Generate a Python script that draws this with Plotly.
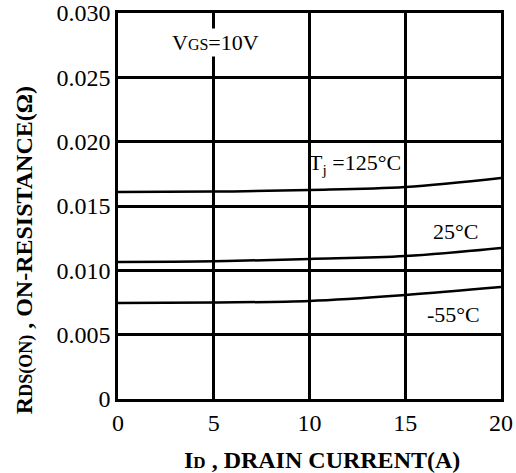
import plotly.graph_objects as go

current = [0, 5, 10, 15, 20]
r_125 = [0.01609, 0.01612, 0.01624, 0.01648, 0.01718]
r_25 = [0.01065, 0.01070, 0.01088, 0.01111, 0.01174]
r_m55 = [0.00746, 0.00750, 0.00762, 0.00808, 0.00870]

x_ticks = [0, 5, 10, 15, 20]
y_ticks = [0, 0.005, 0.010, 0.015, 0.020, 0.025, 0.030]
y_tick_text = ["0", "0.005", "0.010", "0.015", "0.020", "0.025", "0.030"]

FONT = "Liberation Serif, Times New Roman, serif"
SMALL = "<span style='font-size:%dpx'>%s</span>"
SMALLB = "<span style='font-size:%dpx;font-weight:bold'>%s</span>"

fig = go.Figure()
for ys in (r_125, r_25, r_m55):
    fig.add_trace(go.Scatter(x=current, y=ys, mode="lines",
                             line=dict(color="black", width=2.5, shape="spline"),
                             showlegend=False, hoverinfo="skip"))

ann_font = dict(family=FONT, size=22, color="black")
fig.add_annotation(x=5.1, y=0.0277, text="V" + SMALL % (16, "GS") + "=10V", showarrow=False,
                   bgcolor="white", font=ann_font, xanchor="center", yanchor="middle")
fig.add_annotation(x=12.4, y=0.0183, text="T<sub>j</sub> =125°C", showarrow=False,
                   font=ann_font, xanchor="center", yanchor="middle")
fig.add_annotation(x=17.6, y=0.0130, text="25°C", showarrow=False,
                   font=ann_font, xanchor="center", yanchor="middle")
fig.add_annotation(x=17.5, y=0.00653, text="-55°C", showarrow=False,
                   font=ann_font, xanchor="center", yanchor="middle")

fig.add_annotation(xref="paper", yref="paper", x=-0.245, y=0.386,
                   text="<b>R</b>" + SMALLB % (18, "DS(ON)") + "<b> , ON-RESISTANCE(Ω)</b>",
                   textangle=-90, showarrow=False,
                   font=dict(family=FONT, size=24, color="black"),
                   xanchor="center", yanchor="middle")
fig.add_annotation(xref="paper", yref="paper", x=0.533, y=-0.158,
                   text="<b>I</b>" + SMALLB % (17, "D") + "<b> , DRAIN CURRENT(A)</b>",
                   showarrow=False, font=dict(family=FONT, size=24, color="black"),
                   xanchor="center", yanchor="middle")

fig.update_xaxes(range=[0, 20], tickvals=x_ticks, ticks="", showgrid=True,
                 gridcolor="black", gridwidth=2.5, zeroline=False, automargin=False,
                 ticklabeloverflow="allow",
                 showline=True, linecolor="black", linewidth=2.5, mirror=True,
                 tickfont=dict(family=FONT, size=24, color="black"))
fig.update_yaxes(range=[0, 0.030], tickvals=y_ticks, ticktext=y_tick_text, ticks="",
                 showgrid=True, gridcolor="black", gridwidth=2.5, zeroline=False,
                 automargin=False, ticklabeloverflow="allow",
                 showline=True, linecolor="black", linewidth=2.5, mirror=True,
                 tickfont=dict(family=FONT, size=24, color="black"))

fig.update_layout(width=516, height=473, plot_bgcolor="white", paper_bgcolor="white",
                  margin=dict(l=118, r=15, t=13, b=74), showlegend=False)

fig.write_html("out.html", config={"displayModeBar": False},
               post_script="document.body.style.margin='0px';")
